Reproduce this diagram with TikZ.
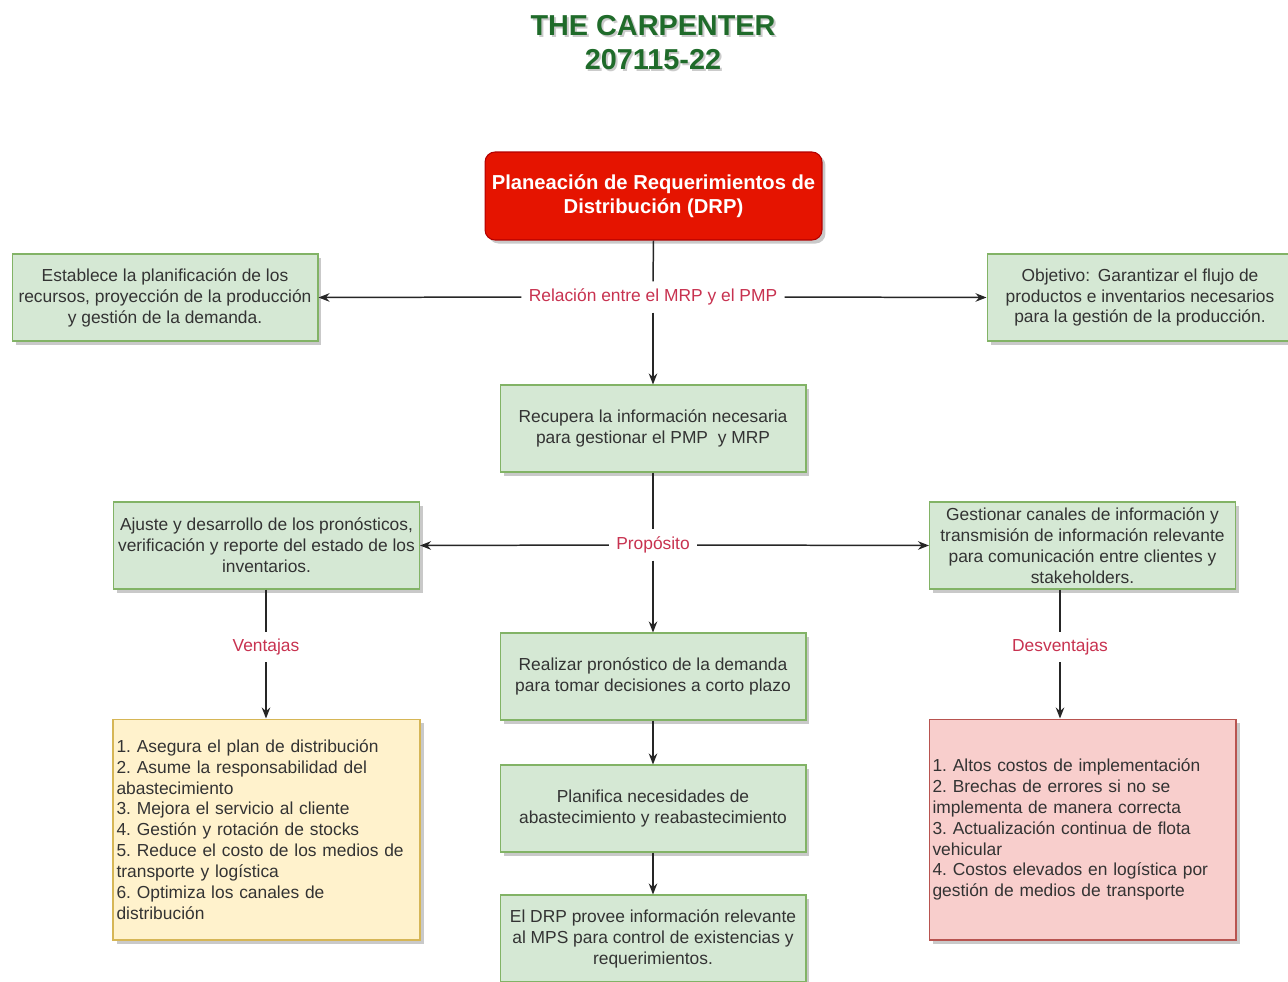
\documentclass[tikz,border=0pt]{standalone}
\usepackage{fontspec}
\setmainfont{Liberation Sans}
\usetikzlibrary{arrows.meta,shadows}
\frenchspacing

\definecolor{gfill}{HTML}{D5E8D4}
\definecolor{gline}{HTML}{82B366}
\definecolor{yfill}{HTML}{FFF2CC}
\definecolor{yline}{HTML}{D6B656}
\definecolor{pfill}{HTML}{F8CECC}
\definecolor{pline}{HTML}{B85450}
\definecolor{rfill}{HTML}{E51400}
\definecolor{rline}{HTML}{B20000}
\definecolor{txt}{HTML}{333333}
\definecolor{lbl}{HTML}{C83250}
\definecolor{ttl}{HTML}{1F6B2A}

\tikzset{
  boxshadow/.style={drop shadow={shadow xshift=2pt,shadow yshift=-2pt,opacity=0.35,fill=black!60}},
  basebox/.style={line width=0.6pt, minimum width=6.12cm, align=center,
    font=\fontsize{9.9}{11.9}\selectfont, text=txt, inner sep=1pt, boxshadow},
  greenbox/.style={basebox, draw=gline, fill=gfill, minimum height=1.74cm},
  listbox/.style={basebox, minimum height=4.42cm, text width=6.0cm, align=left, inner sep=2pt},
  yellowbox/.style={listbox, draw=yline, fill=yfill},
  pinkbox/.style={listbox, draw=pline, fill=pfill},
  mainbox/.style={draw=rline, fill=rfill, line width=0.6pt, rounded corners=0.2cm,
    minimum width=6.74cm, minimum height=1.76cm, align=center, text=white,
    font=\bfseries\fontsize{11.5}{14}\selectfont, boxshadow},
  edgelabel/.style={text=lbl, font=\fontsize{9.9}{11.9}\selectfont, fill=white, inner sep=4pt},
  conn/.style={draw=black!85, line width=0.85pt},
  arr/.style={conn, -{Stealth[length=0.22cm,width=0.17cm]}},
  titlefont/.style={align=center, font=\bfseries\fontsize{16.4}{19.8}\selectfont},
}

\begin{document}
\begin{tikzpicture}[x=0.02cm,y=-0.02cm]
\useasboundingbox[fill=white] (0,0) rectangle (1288,981);

% title
\node[titlefont, text=black!40, opacity=0.5] (titleshadow) at (655,44.5) {THE CARPENTER\\207115-22};
\node[titlefont, text=ttl] (title) at (653,42.5) {THE CARPENTER\\207115-22};

% main concept
\node[mainbox] (drp) at (653.5,196) {Planeación de Requerimientos de\\Distribución (DRP)};

% first level
\node[edgelabel] (rel) at (653,297) {Relación entre el MRP y el PMP};
\node[greenbox] (est) at (165,297.5) {Establece la planificación de los\\recursos, proyección de la producción\\y gestión de la demanda.};
\node[greenbox] (obj) at (1140,297.5) {Objetivo:\ \,Garantizar el flujo de\\productos e inventarios necesarios\\para la gestión de la producción.};
\node[greenbox] (rec) at (653,428.5) {Recupera la información necesaria\\para gestionar el PMP\ \ y MRP};

% second level
\node[edgelabel] (prop) at (653,545) {Propósito};
\node[greenbox] (aju) at (266.5,545.5) {Ajuste y desarrollo de los pronósticos,\\verificación y reporte del estado de los\\inventarios.};
\node[greenbox] (ges) at (1082.5,545.5) {Gestionar canales de información y\\transmisión de información relevante\\para comunicación entre clientes y\\stakeholders.};

% central chain
\node[greenbox] (realiz) at (653,676.5) {Realizar pronóstico de la demanda\\para tomar decisiones a corto plazo};
\node[greenbox] (plan) at (653,808.5) {Planifica necesidades de\\abastecimiento y reabastecimiento};
\node[greenbox] (prov) at (653,938.5) {El DRP provee información relevante\\al MPS para control de existencias y\\requerimientos.};

% advantages / disadvantages
\node[edgelabel] (vent) at (266,647) {Ventajas};
\node[edgelabel] (desv) at (1060,647) {Desventajas};
\node[yellowbox] (ylist) at (266.5,829.5) {1. Asegura el plan de distribución\\
2. Asume la responsabilidad del\\abastecimiento\\
3. Mejora el servicio al cliente\\
4. Gestión y rotación de stocks\\
5. Reduce el costo de los medios de\\transporte y logística\\
6. Optimiza los canales de\\distribución};
\node[pinkbox] (plist) at (1082.5,829.5) {1. Altos costos de implementación\\
2. Brechas de errores si no se\\implementa de manera correcta\\
3. Actualización continua de flota\\vehicular\\
4. Costos elevados en logística por\\gestión de medios de transporte};

% connectors
\draw[conn] (drp.south) -- (rel.north);
\draw[arr] (rel.west) -- (est.east);
\draw[arr] (rel.east) -- (obj.west);
\draw[arr] (rel.south) -- (rec.north);

\draw[conn] (rec.south) -- (prop.north);
\draw[arr] (prop.west) -- (aju.east);
\draw[arr] (prop.east) -- (ges.west);
\draw[arr] (prop.south) -- (realiz.north);

\draw[arr] (realiz.south) -- (plan.north);
\draw[arr] (plan.south) -- (prov.north);

\draw[conn] (vent.north |- aju.south) -- (vent.north);
\draw[arr] (vent.south) -- (vent.south |- ylist.north);
\draw[conn] (desv.north |- ges.south) -- (desv.north);
\draw[arr] (desv.south) -- (desv.south |- plist.north);
\end{tikzpicture}
\end{document}
